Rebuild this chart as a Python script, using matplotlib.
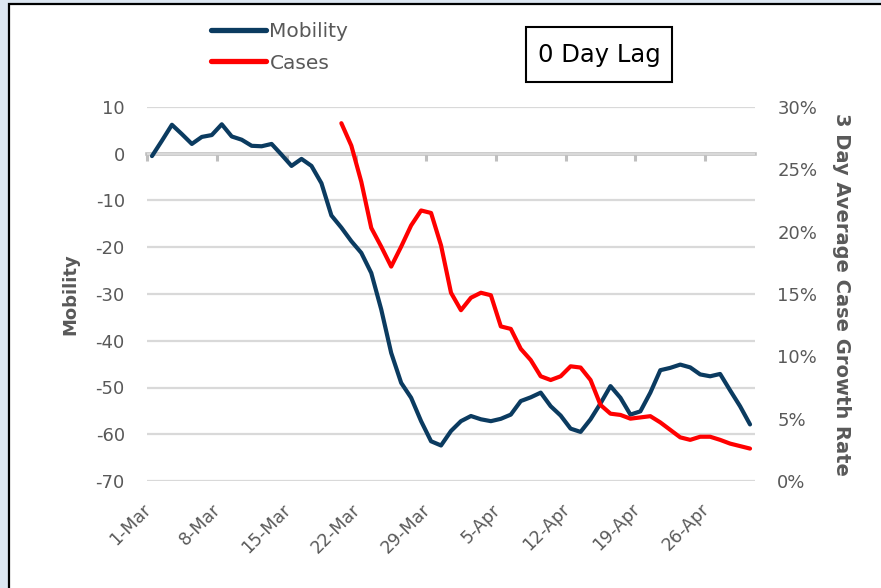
import matplotlib
matplotlib.use("Agg")
import matplotlib.pyplot as plt
import matplotlib.transforms as mtransforms
from matplotlib.patches import Rectangle
from matplotlib.ticker import PercentFormatter, FixedLocator, NullFormatter
import numpy as np

# ---------------- data ----------------
start_day = 0  # 1-Mar
mobility = [-0.5, 2.8, 6.2, 4.2, 2.1, 3.6, 4.0, 6.3, 3.7, 3.0,
            1.7, 1.6, 2.1, -0.2, -2.6, -1.1, -2.6, -6.3, -13.2, -15.8,
            -18.7, -21.2, -25.5, -33.3, -42.6, -49.0, -52.2, -57.2, -61.5, -62.4,
            -59.3, -57.2, -56.1, -56.8, -57.2, -56.7, -55.8, -52.9, -52.1, -51.1,
            -54.0, -56.0, -58.8, -59.5, -56.8, -53.4, -49.7, -52.2, -55.8, -55.1,
            -51.1, -46.3, -45.8, -45.1, -45.7, -47.2, -47.6, -47.1, -50.6, -54.0,
            -57.9]
cases_start = 19  # 20-Mar
cases = [0.287, 0.269, 0.240, 0.203, 0.188, 0.172, 0.188, 0.205, 0.217, 0.215,
         0.189, 0.151, 0.137, 0.147, 0.151, 0.149, 0.124, 0.122, 0.106, 0.097,
         0.084, 0.081, 0.084, 0.092, 0.091, 0.081, 0.061, 0.054, 0.053, 0.050,
         0.051, 0.052, 0.047, 0.041, 0.035, 0.033, 0.0355, 0.0355, 0.033, 0.030,
         0.028, 0.026]
tick_labels = ["1-Mar", "8-Mar", "15-Mar", "22-Mar", "29-Mar",
               "5-Apr", "12-Apr", "19-Apr", "26-Apr"]
series_names = ["Mobility", "Cases"]
annotation = "0 Day Lag"
left_title = "Mobility"
right_title = "3 Day Average Case Growth Rate"

# ---------------- style ----------------
NAVY = "#0b3b60"
RED = "#ff0000"
GRAY_TXT = "#595959"
GRID = "#d9d9d9"
ZERO = "#bfbfbf"
plt.rcParams["font.family"] = ["DejaVu Sans"]
plt.rcParams["axes.unicode_minus"] = False

W, H = 881, 588
fig = plt.figure(figsize=(W / 100, H / 100), dpi=100)
fig.patch.set_facecolor("#dce6f1")

# white panel with black left/top border
panel = Rectangle((9 / W, -0.05), 1.2, 1 - 4 / H + 0.05, transform=fig.transFigure,
                  facecolor="white", edgecolor="black", linewidth=1.6, zorder=-10)
fig.patches.append(panel)

L, R, T, B = 147, 755, 107, 481
rect = [L / W, 1 - B / H, (R - L) / W, (B - T) / H]

# axis hosting the zero line with tick marks (drawn underneath)
axz = fig.add_axes(rect)
axz.set_zorder(-1)
ax = fig.add_axes(rect, sharey=axz)
ax.patch.set_visible(False)
axz.patch.set_visible(False)

days_mob = np.arange(start_day, start_day + len(mobility))
days_cases = np.arange(cases_start, cases_start + len(cases))
xlim = (days_mob[0] - 0.5, days_mob[-1] + 0.5)

# zero axis line with tick marks at week boundaries
axz.set_xlim(xlim)
axz.set_ylim(-70, 10)
for s in ["left", "right", "top"]:
    axz.spines[s].set_visible(False)
axz.spines["bottom"].set_position(("data", 0))
axz.spines["bottom"].set_color(ZERO)
axz.spines["bottom"].set_linewidth(2.6)
axz.xaxis.set_major_locator(FixedLocator(days_mob[::7] - 0.5))
axz.xaxis.set_major_formatter(NullFormatter())
axz.tick_params(axis="x", length=5, width=2.2, color=ZERO, direction="out")
axz.tick_params(axis="y", left=False, labelleft=False)

# main mobility axis
ax.set_xlim(xlim)
ax.set_ylim(-70, 10)
ax.set_yticks(np.arange(-70, 11, 10))
ax.yaxis.grid(True, color=GRID, linewidth=1.6)
ax.set_axisbelow(True)
for s in ["left", "right", "top", "bottom"]:
    ax.spines[s].set_visible(False)
ax.set_xticks(days_mob[::7])
ax.set_xticklabels(tick_labels, rotation=45, ha="right", va="top")
ax.tick_params(axis="x", length=0, pad=14, labelsize=12.5, labelcolor=GRAY_TXT)
ax.tick_params(axis="y", length=0, pad=16, labelsize=13, labelcolor=GRAY_TXT)
off = mtransforms.ScaledTranslation(3 / 100, 0, fig.dpi_scale_trans)
for lab in ax.get_xticklabels():
    lab.set_transform(lab.get_transform() + off)

l1, = ax.plot(days_mob, mobility, color=NAVY, linewidth=3.0,
              solid_capstyle="round", solid_joinstyle="round", label=series_names[0], zorder=3)

# right axis for cases
ax2 = ax.twinx()
ax2.set_ylim(0, 0.30)
ax2.set_yticks(np.arange(0, 0.301, 0.05))
ax2.yaxis.set_major_formatter(PercentFormatter(1.0, decimals=0))
for s in ["left", "right", "top", "bottom"]:
    ax2.spines[s].set_visible(False)
ax2.tick_params(axis="y", length=0, pad=16, labelsize=13, labelcolor=GRAY_TXT)
l2, = ax2.plot(days_cases, cases, color=RED, linewidth=3.0,
               solid_capstyle="round", solid_joinstyle="round", label=series_names[1], zorder=3)

# axis titles
ax.set_ylabel(left_title, fontsize=13, fontweight="bold", color=GRAY_TXT, va="center")
ax.yaxis.set_label_coords((70 - L) / (R - L), 0.5)
ax2.set_ylabel(right_title, fontsize=14, fontweight="bold", color=GRAY_TXT,
               rotation=270, va="center")
ax2.yaxis.set_label_coords((842 - L) / (R - L), 0.5)

# legend
leg = fig.legend(handles=[l1, l2], labels=series_names, loc="center left",
                 bbox_to_anchor=(211 / W, 1 - 47.5 / H), frameon=False, fontsize=14.5,
                 handlelength=2.75, handletextpad=0.15, labelspacing=0.6,
                 borderpad=0, borderaxespad=0, labelcolor=GRAY_TXT)
for ln in leg.get_lines():
    ln.set_linewidth(3.8)

# annotation box
box = Rectangle((526 / W, 1 - 82 / H), 146 / W, 55 / H, transform=fig.transFigure,
                fill=False, edgecolor="black", linewidth=1.5)
fig.patches.append(box)
fig.text(599 / W, 1 - 55 / H, annotation, fontsize=17.5, color="black",
         ha="center", va="center")

fig.savefig("out.png", dpi=100, facecolor=fig.get_facecolor())
